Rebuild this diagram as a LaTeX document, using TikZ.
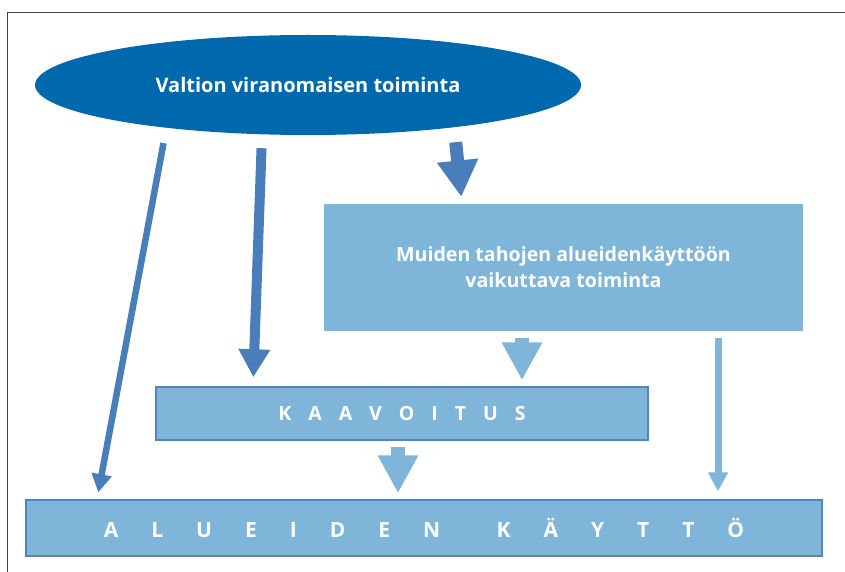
\documentclass[tikz,border=0pt]{standalone}
\usepackage{fontspec}
\setmainfont{Open Sans}
\usepackage{xcolor}
\usepackage{tikz}
\usetikzlibrary{arrows.meta, shapes.geometric, calc}
\definecolor{kaavacolor0}{HTML}{0068AC}
\definecolor{kaavacolor1}{HTML}{4A7EBB}
\definecolor{kaavacolor2}{HTML}{7EB5D8}
\definecolor{kaavacolor3}{HTML}{5683B8}
\definecolor{kaavacolor4}{HTML}{404040}
\newcommand{\kgap}{\hspace{17pt}}
\newcommand{\agap}{\hspace{33pt}}
\tikzset{
  frame_line/.style={draw=kaavacolor4, line width=1pt},
  actor_main/.style={ellipse, fill=kaavacolor0, text=white, font=\fontsize{20}{22}\selectfont\bfseries, inner sep=0pt},
  actor_other/.style={rectangle, fill=kaavacolor2, text=white, font=\fontsize{19.6}{26}\selectfont\bfseries, align=center, inner sep=0pt},
  level_box/.style={rectangle, fill=kaavacolor2, draw=kaavacolor3, line width=1.5pt, text=white, font=\fontsize{19.5}{22}\selectfont\bfseries, inner sep=0pt},
  dep_dark/.style={draw=kaavacolor1, -{Triangle[width=#1*3pt, length=#1*2.8pt]}, line width=#1pt},
  dep_light/.style={draw=kaavacolor2, -{Triangle[width=#1*2.7pt, length=#1*2.7pt]}, line width=#1pt}
}
\begin{document}
\begin{tikzpicture}[x=1pt, y=-1pt]
\useasboundingbox (0,0) rectangle (845,572);
\draw[frame_line] (7,572) -- (7,13) -- (845,13);
\node[actor_main, minimum width=546pt, minimum height=100pt] (valtion) at (308,85) {Valtion viranomaisen toiminta};
\node[actor_other, minimum width=479pt, minimum height=127pt] (muiden) at (563.5,267.5) {Muiden tahojen alueidenkäyttöön\\vaikuttava toiminta};
\node[level_box, minimum width=492pt, minimum height=53pt] (kaavoitus) at (402,413.5) {K\kgap A\kgap A\kgap V\kgap O\kgap I\kgap T\kgap U\kgap S};
\node[level_box, minimum width=796pt, minimum height=56pt, font=\fontsize{21}{24}\selectfont\bfseries] (kaytto) at (424,528) {A\agap L\agap U\agap E\agap I\agap D\agap E\agap N\agap\hspace{18pt} K\agap Ä\agap Y\agap T\agap T\agap Ö};
\draw[dep_dark=6.5, shorten <=8pt, shorten >=7pt] ([xshift=-143pt]valtion.south) -- ([xshift=-327pt]kaytto.north);
\draw[dep_dark=10, shorten <=13pt, shorten >=9pt] ([xshift=-46pt]valtion.south) -- ([xshift=-149pt]kaavoitus.north);
\draw[dep_dark=13, shorten <=7pt, shorten >=7pt] ([xshift=147pt]valtion.south) -- ([xshift=-101.5pt]muiden.north);
\draw[dep_light=14, shorten <=7pt, shorten >=6pt] ([xshift=-41.5pt]muiden.south) -- ([xshift=120pt]kaavoitus.north);
\draw[dep_light=14, shorten <=6pt, shorten >=6pt] ([xshift=-4pt]kaavoitus.south) -- ([xshift=-26pt]kaytto.north);
\draw[dep_light=7, shorten <=7pt, shorten >=8pt] ([xshift=154.5pt]muiden.south) -- ([xshift=294pt]kaytto.north);
\end{tikzpicture}
\end{document}
